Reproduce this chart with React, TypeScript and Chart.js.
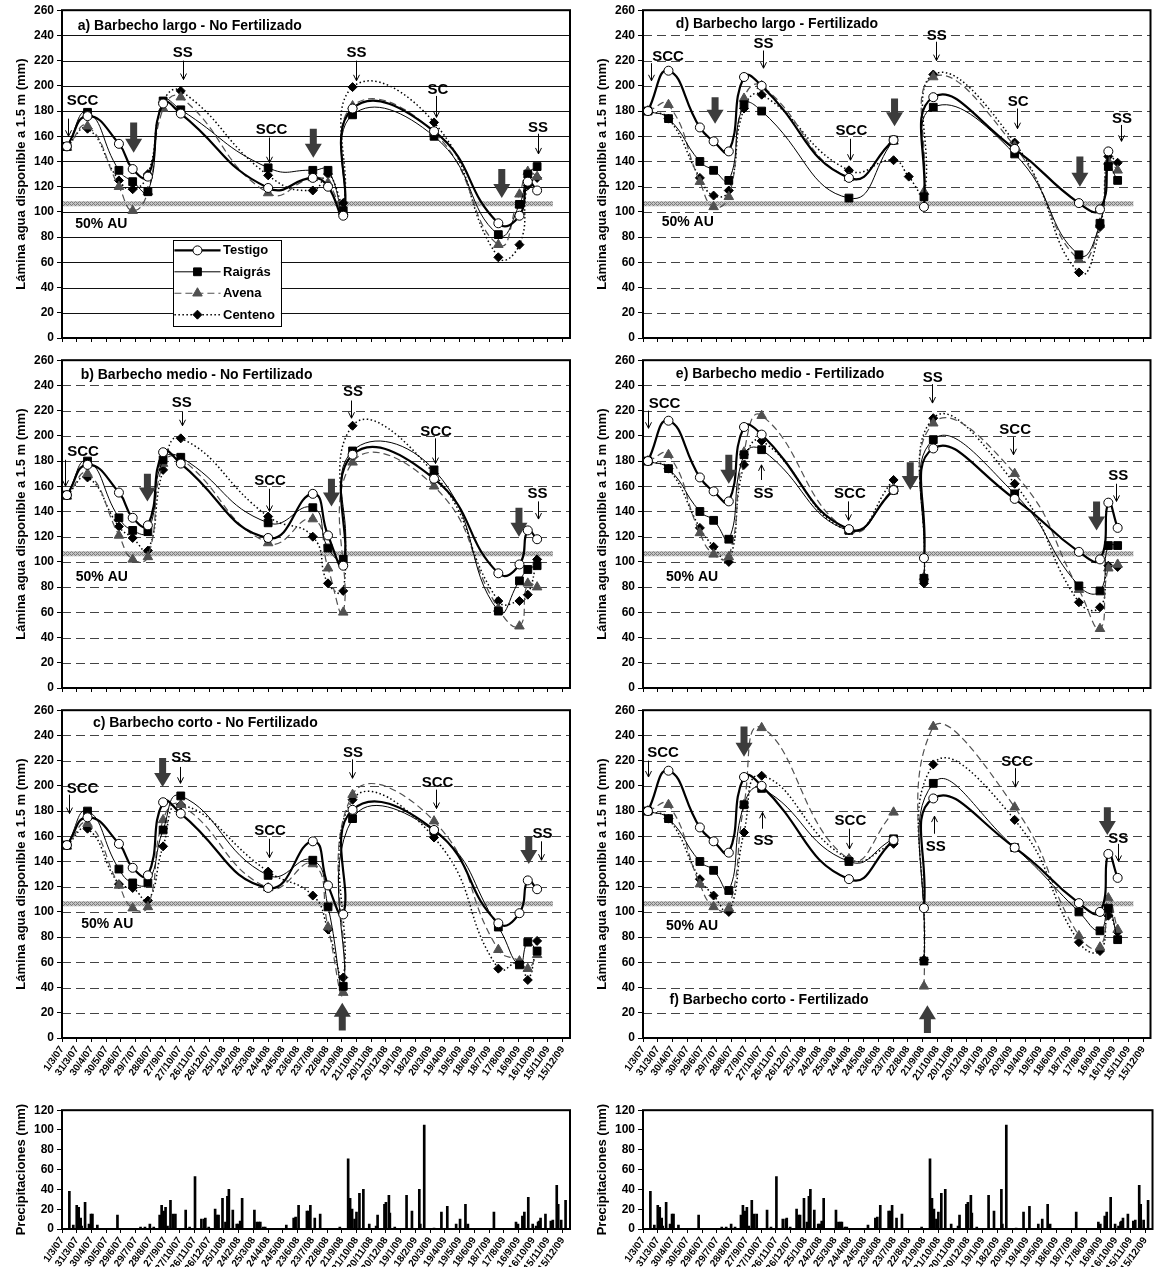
import React, { useEffect, useRef } from 'react';
import { Chart, registerables } from 'chart.js';
Chart.register(...registerables);

const FONT = "'Liberation Sans', Arial, sans-serif";

// ---------- axis tick labels (every 30 days from 1/3/07) ----------
const tickLabels = [
  '1/3/07', '31/3/07', '30/4/07', '30/5/07', '29/6/07', '29/7/07', '28/8/07', '27/9/07', '27/10/07',
  '26/11/07', '26/12/07', '25/1/08', '24/2/08', '25/3/08', '24/4/08', '24/5/08', '23/6/08', '23/7/08',
  '22/8/08', '21/9/08', '21/10/08', '20/11/08', '20/12/08', '19/1/09', '18/2/09', '20/3/09', '19/4/09',
  '19/5/09', '18/6/09', '18/7/09', '17/8/09', '16/9/09', '16/10/09', '15/11/09', '15/12/09',
];
const tickDays = tickLabels.map((_, i) => i * 30);

// sampling dates (days since 1/3/07)
const sampleDays = [10, 52, 116, 144, 175, 206, 242, 420, 511, 542, 573, 592, 758, 889, 932, 949, 968];

const seriesNames = ['Testigo', 'Raigrás', 'Avena', 'Centeno'];

// ---------- panel a ----------
const aTestigo = [152, 176, 154, 134, 128, 186, 178, 119, 127, 120, 97, 182, 164, 91, 97, 124, 117];
const aRaigras = [152, 179, 133, 124, 116, 188, 181, 135, 133, 133, 101, 177, 160, 82, 106, 130, 136];
const aAvena = [151, 168, 120, 101, 116, 182, 191, 115, 127, 123, 100, 184, 163, 74, 114, 132, 128];
const aCenteno = [152, 166, 125, 118, 130, 187, 196, 129, 117, 130, 107, 199, 171, 64, 74, 121, 127];
// ---------- panel b ----------
const bTestigo = [153, 177, 155, 135, 129, 187, 178, 119, 154, 121, 97, 185, 166, 91, 98, 125, 118];
const bRaigras = [153, 180, 135, 125, 124, 181, 183, 131, 143, 111, 102, 188, 173, 61, 85, 94, 97];
const bAvena = [152, 170, 121, 102, 104, 178, 182, 115, 134, 95, 60, 179, 160, 63, 49, 83, 80];
const bCenteno = [153, 167, 128, 119, 109, 173, 198, 136, 120, 83, 77, 208, 170, 69, 69, 74, 102];
// ---------- panel c ----------
const cTestigo = [153, 175, 154, 135, 129, 187, 178, 119, 156, 121, 98, 181, 165, 91, 99, 125, 118];
const cRaigras = [153, 180, 134, 123, 123, 165, 192, 129, 141, 104, 41, 174, 164, 88, 58, 76, 69];
const cAvena = [152, 170, 121, 103, 104, 173, 185, 119, 138, 88, 36, 193, 172, 70, 61, 55, 66];
const cCenteno = [153, 166, 122, 119, 109, 152, 185, 132, 113, 86, 48, 189, 159, 55, 60, 46, 77];
// ---------- panel d ----------
const dTestigo = [180, 212, 167, 156, 148, 207, 200, 127, 157, null, 104, 191, 150, 107, 102, 148, null];
const dRaigras = [180, 174, 140, 133, 125, 185, 180, 111, 157, null, 112, 183, 146, 66, 91, 136, 125];
const dAvena = [180, 185, 124, 104, 112, 190, 200, 127, 156, null, 116, 207, 152, 62, 91, 140, 133];
const dCenteno = [180, 174, 127, 113, 117, 182, 193, 133, 141, 128, 114, 209, 155, 52, 88, 144, 139];
// ---------- panel e ----------
const eTestigo = [180, 212, 167, 156, 148, 207, 201, 126, 157, null, 103, 190, 150, 108, 102, 147, 127];
const eRaigras = [180, 174, 140, 133, 118, 185, 189, 125, 157, null, 87, 197, 154, 81, 77, 113, 113];
const eAvena = [180, 185, 123, 106, 104, 187, 216, 125, 158, null, 88, 210, 170, 78, 47, 95, 98];
const eCenteno = [180, 174, 127, 112, 100, 177, 196, 125, 165, null, 83, 214, 162, 68, 64, 97, 96];
// ---------- panel f ----------
const fTestigo = [180, 212, 167, 156, 147, 207, 200, 126, 157, null, 103, 190, 151, 107, 100, 146, 127];
const fRaigras = [180, 174, 140, 133, 117, 185, 198, 140, 158, null, 61, 202, 151, 100, 85, 103, 78];
const fAvena = [180, 185, 122, 104, 103, 185, 246, 142, 179, null, 41, 247, 183, 81, 72, 111, 86];
const fCenteno = [180, 174, 126, 113, 100, 163, 208, 142, 154, null, 62, 217, 173, 76, 69, 97, 84];

// ---------- precipitation ----------
const precipDays = [
  15, 23, 30, 34, 38, 40, 47, 55, 59, 62, 72, 113, 160, 169, 179, 187, 199, 203, 207, 211, 215, 221, 226, 231,
  252, 260, 271, 284, 290, 292, 299, 312, 316, 319, 327, 333, 337, 340, 348, 356, 359, 363, 367, 392, 397, 401,
  404, 410, 414, 457, 472, 476, 482, 499, 502, 506, 515, 526, 566, 583, 587, 591, 596, 600, 606, 614, 626, 640,
  643, 657, 660, 666, 668, 678, 702, 713, 728, 730, 738, 758, 773, 785, 803, 811, 822, 827, 880, 925, 929, 938,
  942, 950, 959, 966, 970, 972, 975, 985, 996, 1000, 1008, 1011, 1017, 1026,
];
const precipMm = [
  38, 4, 24, 22, 11, 3, 27, 5, 15, 15, 4, 14, 2, 2, 5, 2, 14, 24, 18, 22, 3, 29, 15, 15,
  19, 2, 53, 10, 10, 11, 2, 20, 14, 14, 31, 7, 33, 40, 19, 5, 5, 8, 31, 19, 7, 7,
  7, 2, 2, 4, 11, 12, 24, 18, 18, 24, 11, 15, 2, 71, 31, 20, 10, 17, 36, 40, 5, 3,
  14, 25, 27, 34, 16, 2, 34, 18, 40, 5, 105, 1, 17, 23, 5, 10, 25, 5, 17, 7, 5, 13,
  17, 32, 5, 3, 7, 8, 11, 15, 8, 9, 44, 25, 9, 29,
];

// ---------- annotations (day, value) ----------
type Lbl = { text: string; x: number; y: number; ax: number; y1: number; y2: number };
type Big = { x: number; y1: number; y2: number };

const aLabels: Lbl[] = [
  { text: 'SCC', x: 42, y: 188, ax: 13, y1: 174, y2: 160 },
  { text: 'SS', x: 246, y: 226, ax: 246, y1: 220, y2: 205 },
  { text: 'SCC', x: 427, y: 165, ax: 422, y1: 159, y2: 139 },
  { text: 'SS', x: 600, y: 226, ax: 598, y1: 220, y2: 204 },
  { text: 'SC', x: 766, y: 197, ax: 762, y1: 192, y2: 175 },
  { text: 'SS', x: 970, y: 167, ax: 970, y1: 162, y2: 146 },
];
const aBig: Big[] = [{ x: 146, y1: 171, y2: 147 }, { x: 512, y1: 166, y2: 143 }, { x: 896, y1: 134, y2: 111 }];

const bLabels: Lbl[] = [
  { text: 'SCC', x: 43, y: 187, ax: 7, y1: 181, y2: 160 },
  { text: 'SS', x: 244, y: 226, ax: 244, y1: 219, y2: 208 },
  { text: 'SCC', x: 424, y: 164, ax: 421, y1: 158, y2: 140 },
  { text: 'SS', x: 593, y: 235, ax: 589, y1: 228, y2: 214 },
  { text: 'SCC', x: 762, y: 203, ax: 760, y1: 198, y2: 178 },
  { text: 'SS', x: 969, y: 154, ax: 969, y1: 148, y2: 134 },
];
const bBig: Big[] = [{ x: 174, y1: 170, y2: 148 }, { x: 549, y1: 166, y2: 144 }, { x: 931, y1: 143, y2: 120 }];

const cLabels: Lbl[] = [
  { text: 'SCC', x: 42, y: 198, ax: 14, y1: 193, y2: 178 },
  { text: 'SS', x: 243, y: 222, ax: 241, y1: 215, y2: 202 },
  { text: 'SCC', x: 424, y: 164, ax: 421, y1: 158, y2: 143 },
  { text: 'SS', x: 593, y: 226, ax: 590, y1: 221, y2: 206 },
  { text: 'SCC', x: 765, y: 202, ax: 762, y1: 197, y2: 182 },
  { text: 'SS', x: 979, y: 162, ax: 975, y1: 156, y2: 141 },
];
const cBig: Big[] = [
  { x: 205, y1: 222, y2: 199 }, { x: 951, y1: 160, y2: 138 }, { x: 571, y1: 6, y2: 28 },
];

const dLabels: Lbl[] = [
  { text: 'SCC', x: 51, y: 223, ax: 16, y1: 218, y2: 204 },
  { text: 'SS', x: 246, y: 233, ax: 245, y1: 228, y2: 214 },
  { text: 'SCC', x: 425, y: 164, ax: 422, y1: 158, y2: 141 },
  { text: 'SS', x: 599, y: 240, ax: 597, y1: 235, y2: 220 },
  { text: 'SC', x: 765, y: 187, ax: 763, y1: 182, y2: 166 },
  { text: 'SS', x: 977, y: 174, ax: 975, y1: 169, y2: 156 },
];
const dBig: Big[] = [{ x: 147, y1: 191, y2: 170 }, { x: 513, y1: 190, y2: 168 }, { x: 891, y1: 144, y2: 120 }];

const eLabels: Lbl[] = [
  { text: 'SCC', x: 44, y: 225, ax: 11, y1: 220, y2: 206 },
  { text: 'SS', x: 246, y: 154, ax: 241, y1: 165, y2: 177 },
  { text: 'SCC', x: 422, y: 154, ax: 419, y1: 148, y2: 133 },
  { text: 'SS', x: 591, y: 246, ax: 589, y1: 241, y2: 226 },
  { text: 'SCC', x: 759, y: 205, ax: 754, y1: 199, y2: 185 },
  { text: 'SS', x: 969, y: 168, ax: 965, y1: 162, y2: 148 },
];
const eBig: Big[] = [{ x: 175, y1: 185, y2: 162 }, { x: 545, y1: 179, y2: 157 }, { x: 925, y1: 148, y2: 125 }];

const fLabels: Lbl[] = [
  { text: 'SCC', x: 41, y: 226, ax: 10, y1: 220, y2: 207 },
  { text: 'SS', x: 246, y: 156, ax: 242, y1: 166, y2: 179 },
  { text: 'SCC', x: 423, y: 172, ax: 420, y1: 166, y2: 150 },
  { text: 'SS', x: 597, y: 152, ax: 593, y1: 162, y2: 176 },
  { text: 'SCC', x: 763, y: 219, ax: 758, y1: 214, y2: 199 },
  { text: 'SS', x: 969, y: 158, ax: 969, y1: 154, y2: 140 },
];
const fBig: Big[] = [
  { x: 206, y1: 247, y2: 223 }, { x: 947, y1: 183, y2: 161 }, { x: 580, y1: 4, y2: 26 },
];

// legend box of panel a (day / value extents)
const legendBox = { d0: 226, d1: 446, v0: 78, v1: 10, line0: 229, line1: 323, text: 328 };

// ---------- styles ----------
const seriesStyle = [
  { color: '#000', width: 2.2, dash: [] as number[], point: 'circle', r: 4.5, fill: '#fff', pb: '#000' },
  { color: '#000', width: 1, dash: [] as number[], point: 'rect', r: 5.5, fill: '#000', pb: '#000' },
  { color: '#505050', width: 1.2, dash: [7, 4], point: 'triangle', r: 5.5, fill: '#505050', pb: '#505050' },
  { color: '#000', width: 1.5, dash: [1.5, 2.5], point: 'rectRot', r: 4.5, fill: '#000', pb: '#000' },
];

type Panel = {
  title: string; titlePos: [number, number]; auPos: [number, number];
  series: (number | null)[][]; labels: Lbl[]; big: Big[];
  solidGrid: boolean; legend: boolean; showX: boolean;
  left: number; top: number; w: number; h: number; yWidth: number; padRight: number; titlePad: number; xHeight: number;
};

const L = { left: 0, w: 578, yWidth: 62, padRight: 8, titlePad: 14 };
const R = { left: 578, w: 579, yWidth: 65, padRight: 3, titlePad: 17 };
const ROW1 = { top: 0, h: 350, xHeight: 12 };
const ROW2 = { top: 350, h: 350, xHeight: 12 };
const ROW3 = { top: 700, h: 400, xHeight: 62 };

const panels: Panel[] = [
  { title: 'a) Barbecho largo - No Fertilizado', titlePos: [32, 247.5], auPos: [27, 90], series: [aTestigo, aRaigras, aAvena, aCenteno], labels: aLabels, big: aBig, solidGrid: true, legend: true, showX: false, ...L, ...ROW1 },
  { title: 'b) Barbecho medio - No Fertilizado', titlePos: [38, 248], auPos: [28, 88], series: [bTestigo, bRaigras, bAvena, bCenteno], labels: bLabels, big: bBig, solidGrid: false, legend: false, showX: false, ...L, ...ROW2 },
  { title: 'c) Barbecho corto - No Fertilizado', titlePos: [63, 250], auPos: [39, 90], series: [cTestigo, cRaigras, cAvena, cCenteno], labels: cLabels, big: cBig, solidGrid: false, legend: false, showX: true, ...L, ...ROW3 },
  { title: 'd) Barbecho largo - Fertilizado', titlePos: [67, 249], auPos: [38, 92], series: [dTestigo, dRaigras, dAvena, dCenteno], labels: dLabels, big: dBig, solidGrid: false, legend: false, showX: false, ...R, ...ROW1 },
  { title: 'e) Barbecho medio - Fertilizado', titlePos: [67, 249], auPos: [47, 88], series: [eTestigo, eRaigras, eAvena, eCenteno], labels: eLabels, big: eBig, solidGrid: false, legend: false, showX: false, ...R, ...ROW2 },
  { title: 'f) Barbecho corto - Fertilizado', titlePos: [54, 30], auPos: [47, 89], series: [fTestigo, fRaigras, fAvena, fCenteno], labels: fLabels, big: fBig, solidGrid: false, legend: false, showX: true, ...R, ...ROW3 },
];

const AU_VALUE = 106.5;

function drawMarker(ctx: CanvasRenderingContext2D, st: any, x: number, y: number) {
  ctx.save();
  ctx.setLineDash([]);
  ctx.fillStyle = st.fill;
  ctx.strokeStyle = st.pb;
  ctx.lineWidth = 1;
  ctx.beginPath();
  const r = st.r;
  if (st.point === 'circle') ctx.arc(x, y, r, 0, Math.PI * 2);
  else if (st.point === 'rect') { const s = r * Math.SQRT1_2; ctx.rect(x - s, y - s, 2 * s, 2 * s); }
  else if (st.point === 'triangle') { ctx.moveTo(x, y - r); ctx.lineTo(x + r * 0.866, y + r * 0.5); ctx.lineTo(x - r * 0.866, y + r * 0.5); ctx.closePath(); }
  else { ctx.moveTo(x, y - r); ctx.lineTo(x + r, y); ctx.lineTo(x, y + r); ctx.lineTo(x - r, y); ctx.closePath(); }
  ctx.fill();
  ctx.stroke();
  ctx.restore();
}

function makePattern(ctx: CanvasRenderingContext2D) {
  const c = document.createElement('canvas');
  c.width = 4; c.height = 4;
  const g = c.getContext('2d')!;
  g.fillStyle = '#c4c4c4'; g.fillRect(0, 0, 4, 4);
  g.fillStyle = '#7c7c7c';
  g.fillRect(0, 0, 1, 1); g.fillRect(2, 2, 1, 1); g.fillRect(2, 0, 1, 1); g.fillRect(0, 2, 1, 1);
  g.fillRect(1, 3, 1, 1); g.fillRect(3, 1, 1, 1);
  return ctx.createPattern(c, 'repeat');
}

function makeAnnot(p: Panel) {
  return {
    id: 'annot',
    beforeDatasetsDraw(chart: any) {
      const { ctx, chartArea: ca, scales } = chart;
      const x = scales.x, y = scales.y;
      ctx.save();
      ctx.lineWidth = 1;
      ctx.strokeStyle = p.solidGrid ? '#111' : '#444';
      ctx.setLineDash(p.solidGrid ? [] : [9, 5]);
      y.ticks.forEach((t: any) => {
        if (t.value <= 0 || t.value >= 260) return;
        const py = Math.round(y.getPixelForValue(t.value)) + 0.5;
        ctx.beginPath(); ctx.moveTo(ca.left, py); ctx.lineTo(ca.right, py); ctx.stroke();
      });
      ctx.setLineDash([]);
      // 50% AU band
      const pat = makePattern(ctx);
      const by = y.getPixelForValue(AU_VALUE);
      const bx0 = x.getPixelForValue(2), bx1 = x.getPixelForValue(1000);
      ctx.fillStyle = pat || '#aaa';
      ctx.fillRect(bx0, by - 2.5, bx1 - bx0, 5);
      ctx.restore();
    },
    afterDatasetsDraw(chart: any) {
      const { ctx, chartArea: ca, scales } = chart;
      const x = scales.x, y = scales.y;
      ctx.save();
      // title
      ctx.fillStyle = '#000';
      ctx.font = `bold 14px ${FONT}`;
      ctx.textAlign = 'left';
      ctx.textBaseline = 'middle';
      ctx.fillText(p.title, x.getPixelForValue(p.titlePos[0]), y.getPixelForValue(p.titlePos[1]));
      ctx.fillText('50% AU', x.getPixelForValue(p.auPos[0]), y.getPixelForValue(p.auPos[1]));
      // labels with small arrows
      ctx.font = `bold 15px ${FONT}`;
      ctx.textAlign = 'center';
      ctx.strokeStyle = '#000';
      ctx.lineWidth = 1;
      p.labels.forEach((l) => {
        ctx.fillText(l.text, x.getPixelForValue(l.x), y.getPixelForValue(l.y));
        const px = Math.round(x.getPixelForValue(l.ax)) + 0.5;
        const p1 = y.getPixelForValue(l.y1), p2 = y.getPixelForValue(l.y2);
        const d = Math.sign(p2 - p1);
        ctx.beginPath(); ctx.moveTo(px, p1); ctx.lineTo(px, p2); ctx.stroke();
        ctx.beginPath(); ctx.moveTo(px - 3, p2 - d * 6); ctx.lineTo(px, p2); ctx.lineTo(px + 3, p2 - d * 6); ctx.stroke();
      });
      // big gray arrows
      ctx.fillStyle = '#3c3c3c';
      p.big.forEach((b) => {
        const px = x.getPixelForValue(b.x);
        const p1 = y.getPixelForValue(b.y1), p2 = y.getPixelForValue(b.y2);
        const d = Math.sign(p2 - p1);
        const hb = p2 - d * 14;
        ctx.beginPath();
        ctx.moveTo(px - 3.5, p1); ctx.lineTo(px + 3.5, p1); ctx.lineTo(px + 3.5, hb); ctx.lineTo(px + 8.5, hb);
        ctx.lineTo(px, p2); ctx.lineTo(px - 8.5, hb); ctx.lineTo(px - 3.5, hb); ctx.closePath();
        ctx.fill();
      });
      // legend
      if (p.legend) {
        const lb = legendBox;
        const lx0 = x.getPixelForValue(lb.d0), lx1 = x.getPixelForValue(lb.d1);
        const ly0 = y.getPixelForValue(lb.v0), ly1 = y.getPixelForValue(lb.v1);
        ctx.fillStyle = '#fff';
        ctx.fillRect(lx0, ly0, lx1 - lx0, ly1 - ly0);
        ctx.strokeStyle = '#000';
        ctx.lineWidth = 1;
        ctx.strokeRect(Math.round(lx0) + 0.5, Math.round(ly0) + 0.5, Math.round(lx1 - lx0), Math.round(ly1 - ly0));
        const rowH = (ly1 - ly0) / 4;
        const sx0 = x.getPixelForValue(lb.line0), sx1 = x.getPixelForValue(lb.line1), tx = x.getPixelForValue(lb.text);
        ctx.font = `bold 13px ${FONT}`;
        ctx.textAlign = 'left';
        ctx.textBaseline = 'middle';
        seriesNames.forEach((n, k) => {
          const st = seriesStyle[k];
          const cy = ly0 + rowH * (k + 0.5);
          ctx.save();
          ctx.strokeStyle = st.color; ctx.lineWidth = st.width; ctx.setLineDash(st.dash);
          ctx.beginPath(); ctx.moveTo(sx0, cy); ctx.lineTo(sx1, cy); ctx.stroke();
          ctx.restore();
          drawMarker(ctx, st, (sx0 + sx1) / 2, cy);
          ctx.fillStyle = '#000';
          ctx.fillText(n, tx, cy + 0.5);
        });
      }
      // frame
      ctx.strokeStyle = '#000';
      ctx.lineWidth = 2;
      ctx.setLineDash([]);
      ctx.strokeRect(ca.left, ca.top, ca.right - ca.left, ca.bottom - ca.top);
      ctx.restore();
    },
  };
}

const frame = {
  id: 'frame',
  afterDatasetsDraw(chart: any) {
    const { ctx, chartArea: ca } = chart;
    ctx.save();
    ctx.strokeStyle = '#000';
    ctx.lineWidth = 2;
    ctx.strokeRect(ca.left, ca.top, ca.right - ca.left, ca.bottom - ca.top);
    ctx.restore();
  },
};

function xScale(showLabels: boolean, xHeight: number) {
  return {
    type: 'linear',
    min: 0,
    max: 1035,
    offset: false,
    afterBuildTicks: (s: any) => { s.ticks = tickDays.map((v) => ({ value: v })); },
    afterFit: (s: any) => { s.height = xHeight; },
    grid: { display: true, drawOnChartArea: false, drawTicks: true, tickLength: 4, color: '#000', lineWidth: 1, offset: false },
    border: { display: false },
    ticks: {
      display: showLabels, autoSkip: false, minRotation: 55, maxRotation: 55, padding: 2, color: '#000',
      font: { family: FONT, size: 10, weight: 'bold' },
      callback: (_v: any, i: number) => tickLabels[i],
    },
  };
}

function yScale(max: number, width: number, title: string, titlePad: number) {
  return {
    min: 0,
    max,
    afterFit: (s: any) => { s.width = width; },
    ticks: { stepSize: 20, padding: 3, color: '#000', font: { family: FONT, size: 12, weight: 'bold' } },
    grid: { display: true, drawOnChartArea: false, drawTicks: true, tickLength: 5, color: '#000', lineWidth: 1 },
    border: { display: false },
    title: { display: true, text: title, color: '#000', font: { family: FONT, size: 13, weight: 'bold' }, padding: { top: titlePad, bottom: 0 } },
  };
}

function lineConfig(p: Panel): any {
  return {
    type: 'line',
    data: {
      datasets: p.series.map((vals, k) => {
        const st = seriesStyle[k];
        return {
          label: seriesNames[k],
          data: sampleDays.map((d, i) => ({ x: d, y: vals[i] })),
          borderColor: st.color,
          borderWidth: st.width,
          borderDash: st.dash,
          pointStyle: st.point,
          pointRadius: st.r,
          pointBackgroundColor: st.fill,
          pointBorderColor: st.pb,
          pointBorderWidth: 1,
          tension: 0.5,
          spanGaps: false,
          fill: false,
        };
      }),
    },
    options: {
      responsive: false,
      animation: false,
      devicePixelRatio: 1,
      events: [],
      layout: { padding: { top: 10, right: p.padRight, left: 0, bottom: 0 } },
      plugins: { legend: { display: false }, tooltip: { enabled: false } },
      scales: {
        x: xScale(p.showX, p.xHeight),
        y: yScale(260, p.yWidth, 'Lámina agua disponible a 1.5 m (mm)', p.titlePad),
      },
    },
    plugins: [makeAnnot(p)],
  };
}

function precipConfig(col: typeof L): any {
  return {
    type: 'bar',
    data: {
      datasets: [{
        label: 'Precipitaciones',
        data: precipDays.map((d, i) => ({ x: d, y: precipMm[i] })),
        backgroundColor: '#000',
        borderWidth: 0,
        barThickness: 2,
      }],
    },
    options: {
      responsive: false,
      animation: false,
      devicePixelRatio: 1,
      events: [],
      layout: { padding: { top: 8, right: col.padRight, left: 0, bottom: 0 } },
      plugins: { legend: { display: false }, tooltip: { enabled: false } },
      scales: {
        x: xScale(true, 38),
        y: yScale(120, col.yWidth, 'Precipitaciones (mm)', col.titlePad),
      },
    },
    plugins: [frame],
  };
}

function ChartBox({ left, top, w, h, build }: { left: number; top: number; w: number; h: number; build: () => any }) {
  const ref = useRef<HTMLCanvasElement | null>(null);
  useEffect(() => {
    if (!ref.current) return;
    const chart = new Chart(ref.current, build());
    return () => chart.destroy();
  }, []);
  return (
    <canvas
      ref={ref}
      width={w}
      height={h}
      style={{ position: 'absolute', left, top, width: w, height: h }}
    />
  );
}

export default function App() {
  return (
    <div style={{ position: 'absolute', left: 0, top: 0, width: 1157, height: 1267, background: '#fff', overflow: 'hidden' }}>
      {panels.map((p, i) => (
        <ChartBox key={i} left={p.left} top={p.top} w={p.w} h={p.h} build={() => lineConfig(p)} />
      ))}
      <ChartBox left={L.left} top={1100} w={L.w} h={167} build={() => precipConfig(L)} />
      <ChartBox left={R.left} top={1100} w={R.w} h={167} build={() => precipConfig(R)} />
    </div>
  );
}
